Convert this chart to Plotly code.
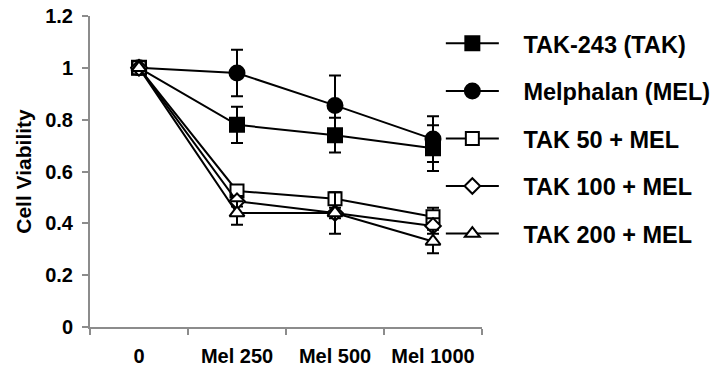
import plotly.graph_objects as go

categories = ["0", "Mel 250", "Mel 500", "Mel 1000"]

names = ["TAK-243 (TAK)", "Melphalan (MEL)", "TAK 50 + MEL", "TAK 100 + MEL", "TAK 200 + MEL"]
tak = [1.0, 0.78, 0.74, 0.69]
tak_err = [0, 0.07, 0.067, 0.088]
mel = [1.0, 0.98, 0.855, 0.725]
mel_err = [0, 0.09, 0.115, 0.088]
tak50 = [1.0, 0.525, 0.495, 0.425]
tak50_err = [0, 0.02, 0.02, 0.035]
tak100 = [1.0, 0.485, 0.44, 0.39]
tak100_err = [0, 0.02, 0.02, 0.03]
tak200 = [1.0, 0.44, 0.44, 0.33]
tak200_err = [0, 0.045, 0.08, 0.045]

values = [tak, mel, tak50, tak100, tak200]
errors = [tak_err, mel_err, tak50_err, tak100_err, tak200_err]
symbols = ["square", "circle", "square", "diamond", "triangle-up"]
fills = ["black", "black", "white", "white", "white"]
sizes = [14, 15, 13, 12, 13]

FONT = "Liberation Sans, Arial, sans-serif"
PAD = "\u00a0\u00a0\u00a0"

fig = go.Figure()
for i in range(5):
    fig.add_trace(go.Scatter(
        x=categories, y=values[i], name=PAD + names[i], mode="lines+markers",
        legendgroup=str(i),
        line=dict(color="black", width=2),
        marker=dict(symbol=symbols[i], size=sizes[i], color=fills[i],
                    line=dict(color="black", width=2)),
        error_y=dict(type="data", array=errors[i], visible=True,
                     color="black", thickness=2, width=6),
    ))

fig.update_layout(
    width=719, height=368,
    margin=dict(l=90, r=237, t=16, b=41, autoexpand=False),
    paper_bgcolor="white", plot_bgcolor="white",
    font=dict(family=FONT, color="black"),
    showlegend=True,
    legend=dict(x=0.895, y=0.982, xanchor="left", yanchor="top",
                font=dict(family=FONT, size=23.5, weight="bold", color="black"),
                tracegroupgap=14, itemwidth=53, bgcolor="rgba(0,0,0,0)"),
)
fig.update_xaxes(
    type="category", range=[-0.5, 3.5], automargin=False,
    showgrid=False, showline=True, linecolor="#8c8c8c", linewidth=2,
    ticks="outside", ticklen=6, tickcolor="#8c8c8c", tickwidth=2, tickson="boundaries",
    tickfont=dict(family=FONT, size=20, weight="bold", color="black"),
    ticklabelstandoff=10, zeroline=False,
)
fig.update_yaxes(
    range=[0, 1.2], dtick=0.2, automargin=False,
    showgrid=False, showline=True, linecolor="#8c8c8c", linewidth=2,
    ticks="outside", ticklen=6, tickcolor="#8c8c8c", tickwidth=2,
    tickfont=dict(family=FONT, size=20, weight="bold", color="black"),
    ticklabelstandoff=5, zeroline=False,
    title=dict(text="Cell Viability", font=dict(family=FONT, size=21, weight="bold", color="black"), standoff=8),
)

# remove the browser's default 8px body margin so the figure fills the window
fig.write_html("out.html", config={"displayModeBar": False},
               post_script="document.body.style.margin='0';")
